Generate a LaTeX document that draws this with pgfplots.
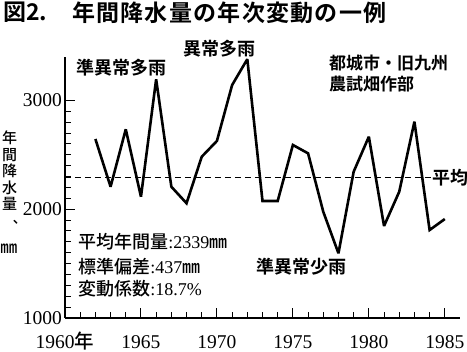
\documentclass[border=0pt]{standalone}
\usepackage{fontspec}
\usepackage{pgfplots}
\pgfplotsset{compat=1.18}
\setmainfont{Liberation Serif}
\newfontfamily\jpb{Noto Sans CJK JP Bold}
\newfontfamily\jpm{Noto Sans CJK JP Medium}
\newfontfamily\jpt{Noto Sans CJK JP Bold}[LetterSpace=5.5]
\begin{document}
\begin{tikzpicture}[x=1pt,y=1pt]
\useasboundingbox (0,0) rectangle (467,352);
\begin{axis}[
  at={(65pt,34pt)}, anchor=south west, scale only axis,
  width=395pt, height=261pt,
  xmin=1960, xmax=1986, ymin=1000, ymax=3400,
  axis lines*=left,
  axis line style={line width=1.4pt},
  tick align=inside,
  xtick={1960,1965,1970,1975,1980,1985},
  xticklabels={{1960{\jpm 年}},1965,1970,1975,1980,1985},
  ytick={1000,2000,3000},
  minor x tick num=4, minor y tick num=9,
  major tick length=10pt, minor tick length=6pt,
  tick style={line width=1pt, black},
  tick label style={font=\fontsize{19.5}{19.5}\selectfont},
  /pgf/number format/assume math mode=true,
  /pgf/number format/set thousands separator={},
  yticklabel style={anchor=east, inner sep=0pt, xshift=-3pt},
  xticklabel style={anchor=base, inner sep=0pt, yshift=-31pt},
  clip=false,
]
\addplot[line width=2.6pt, line join=miter, miter limit=3, black] coordinates {
(1962,2646) (1963,2207) (1964,2735) (1965,2115) (1966,3195) (1967,2207)
(1968,2055) (1969,2483) (1970,2628) (1971,3142) (1972,3380) (1973,2076)
(1974,2076) (1975,2591) (1976,2514) (1977,1977) (1978,1595) (1979,2345)
(1980,2667) (1981,1846) (1982,2161) (1983,2805) (1984,1809) (1985,1910)
};
\addplot[line width=1.3pt, dash pattern=on 6pt off 4pt, black] coordinates {(1960,2290) (1984.1,2290)};

\node[inner sep=0, font=\jpb\fontsize{18}{18}\selectfont] at (axis cs:1963.69,3299) {準異常多雨};
\node[inner sep=0, font=\jpb\fontsize{18}{18}\selectfont] at (axis cs:1970.14,3478) {異常多雨};
\node[anchor=west, inner sep=0, font=\jpb\fontsize{17}{17}\selectfont] at (axis cs:1977.38,3349) {都城市・旧九州};
\node[anchor=west, inner sep=0, font=\jpb\fontsize{17}{17}\selectfont] at (axis cs:1977.38,3152) {農試畑作部};
\node[anchor=west, inner sep=0, font=\jpb\fontsize{18}{18}\selectfont] at (axis cs:1984.16,2290) {平均};
\node[inner sep=0, font=\jpb\fontsize{18}{18}\selectfont] at (axis cs:1975.6,1469) {準異常少雨};
\node[anchor=west, inner sep=0, font=\jpm\fontsize{18}{18}\selectfont] at (axis cs:1960.86,1699) {平均年間量{\rmfamily :2339}㎜};
\node[anchor=west, inner sep=0, font=\jpm\fontsize{18}{18}\selectfont] at (axis cs:1960.86,1469) {標準偏差{\rmfamily :437}㎜};
\node[anchor=west, inner sep=0, font=\jpm\fontsize{18}{18}\selectfont] at (axis cs:1960.86,1267) {変動係数{\rmfamily :18.7\%}};
\end{axis}
\node[anchor=west, inner sep=0, font=\jpb\fontsize{23}{23}\selectfont] at (3,339.5) {図2.};
\node[anchor=west, inner sep=0, font=\jpt\fontsize{23}{23}\selectfont] at (72,339.5) {年間降水量の年次変動の一例};
\node[inner sep=0, align=center, font=\jpm\fontsize{15}{16.5}\selectfont] at (9.5,181.3) {年\\間\\降\\水\\量};
\node[anchor=base west, inner sep=0, font=\jpm\fontsize{14}{14}\selectfont] at (13,128) {､};
\node[inner sep=0, font=\jpm\fontsize{17}{17}\selectfont] at (9,103) {㎜};
\end{tikzpicture}
\end{document}
